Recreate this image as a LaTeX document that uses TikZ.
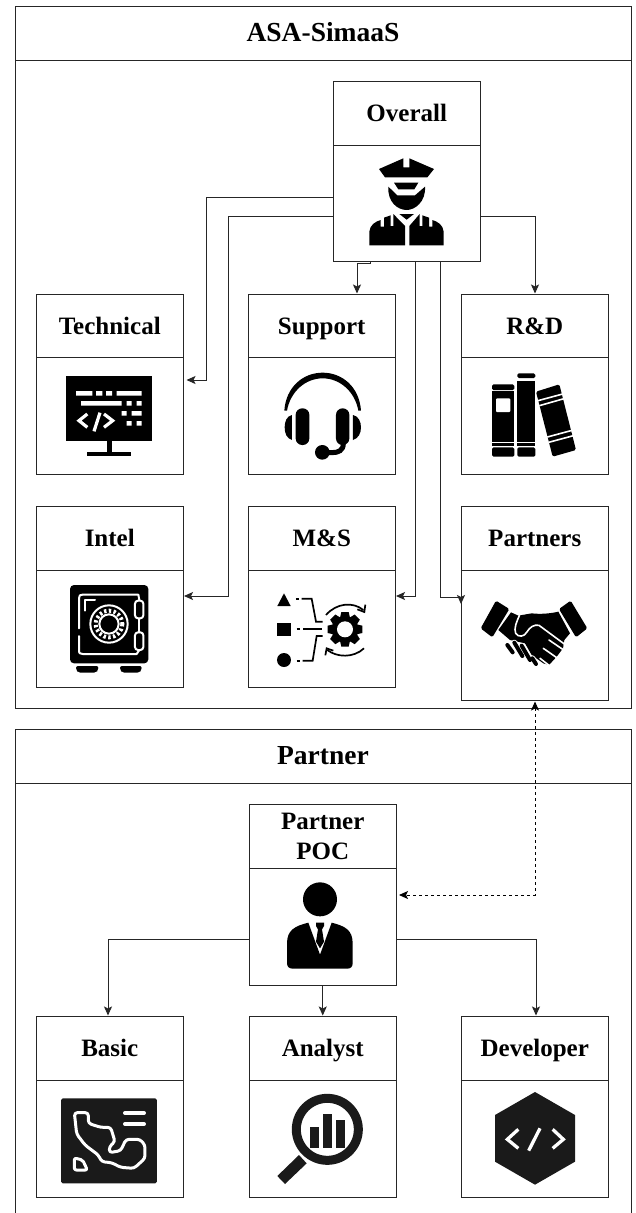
\documentclass[tikz,border=0pt]{standalone}
\usepackage{fontspec}
\setmainfont{Liberation Serif}
\usetikzlibrary{arrows.meta}
\definecolor{soft}{HTML}{1A1A1A}
\newcommand{\tstrut}{\rule[-6pt]{0pt}{29pt}}
\tikzset{
  x=1pt,y=-1pt,
  frameline/.style={draw=black!85,line width=1pt},
  head/.style={frameline,fill=white,inner sep=0pt,align=center,font=\bfseries\fontsize{25}{27}\selectfont},
  framehead/.style={head,font=\bfseries\fontsize{27.5}{30}\selectfont},
  bodybox/.style={frameline,fill=white,inner sep=0pt},
  tip/.style={-{Stealth[length=9pt,width=8pt,inset=2pt]}},
  link/.style={draw=black!85,line width=1pt,tip},
  dlink/.style={draw=black,line width=1pt,dash pattern=on 3pt off 3pt,{Stealth[length=9pt,width=8pt,inset=2pt]}-{Stealth[length=9pt,width=8pt,inset=2pt]}},
  zm/.style 2 args={shift={(#1,#2)},x=0.33333pt,y=-0.33333pt},
  wl/.style={draw=white,line width=#1,line cap=round,line join=round},
  bl/.style={draw=black,line width=#1,line cap=round,line join=round},
}
% name, x1, y1, y2, y3, title
\newcommand{\cardbox}[6]{%
  \node[head,minimum width=147.5pt,minimum height={#4pt-#3pt}] (#1h) at ({#2+73.75},{(#3+#4)/2}) {\tstrut #6\tstrut};
  \node[bodybox,minimum width=147.5pt,minimum height={#5pt-#4pt}] (#1) at ({#2+73.75},{(#4+#5)/2}) {};
}
\begin{document}
\begin{tikzpicture}
\useasboundingbox (0,0) rectangle (635,1213);
\fill[white] (0,0) rectangle (635,1213);
% frames
\node[framehead,minimum width=616pt,minimum height=54pt] (asah) at (323,33) {\tstrut ASA-SimaaS\tstrut};
\node[bodybox,minimum width=616pt,minimum height=648pt] (asa) at (323,384) {};
\node[framehead,minimum width=616pt,minimum height=54pt] (parth) at (323,756) {\tstrut Partner\tstrut};
\node[bodybox,minimum width=616pt,minimum height=440pt] (part) at (323,1003) {};
% cards
\cardbox{overall}{333}{81}{145}{261}{Overall}
\cardbox{tech}{36}{294}{357}{474}{Technical}
\cardbox{supp}{248}{294}{357}{474}{Support}
\cardbox{rd}{461}{294}{357}{474}{R\&D}
\cardbox{intel}{36}{506}{570}{687}{Intel}
\cardbox{ms}{248}{506}{570}{687}{M\&S}
\cardbox{pa}{461}{506}{570}{700}{Partners}
\cardbox{poc}{249}{804}{868}{985}{Partner\\POC}
\cardbox{basic}{36}{1016}{1080}{1197}{Basic}
\cardbox{anal}{249}{1016}{1080}{1197}{Analyst}
\cardbox{dev}{461}{1016}{1080}{1197}{Developer}
% connector bends
\coordinate (b1) at (206,197);
\coordinate (b2) at (206,380);
\coordinate (b3) at (228,216);
\coordinate (b4) at (228,596);
\coordinate (b5) at (370,263);
\coordinate (b6) at (357,263);
\coordinate (b7) at (415.5,596);
\coordinate (b8) at (440,597);
\coordinate (b9) at (461,597);
\coordinate (b10) at (535,216);
\coordinate (b11) at (535,895);
\coordinate (b12) at (108,939);
\coordinate (b13) at (536,939);
% connectors
\draw[link] ([yshift=6pt]overall.west) -- (b1) -- (b2) -- ([xshift=2.5pt]tech.east |- b2);
\draw[link] ([yshift=-13pt]overall.west) -- (b3) -- (b4) -- (intel.east |- b4);
\draw[link] (b5 |- overall.south) -- (b5) -- (b6) -- (b6 |- supph.north);
\draw[link] (b7 |- overall.south) -- (b7) -- (ms.east |- b7);
\draw[link] (b8 |- overall.south) -- (b8) -- (b9) -- ([yshift=-7pt]b9);
\draw[link] ([yshift=-13pt]overall.east) -- (b10) -- (b10 |- rdh.north);
\draw[dlink] ([yshift=-1pt]pa.south -| b11) -- (b11) -- ([xshift=2pt]poc.east |- b11);
\draw[link] (poc.west |- b12) -- (b12) -- (b12 |- basich.north);
\draw[link] (poc.south -| analh.north) -- (analh.north);
\draw[link] (poc.east |- b13) -- (b13) -- (b13 |- devh.north);

% ---- Police icon
\begin{scope}[zm={320}{70}]
\fill (177,297) -- (250,265) -- (250,292) -- (268,292) -- (268,265) -- (342,297) -- (322,322) -- (195,322) -- cycle;
\fill (222,338) -- (295,338) -- (283,358) -- (235,358) -- cycle;
\fill (205,350) -- (232,376) -- (285,376) -- (315,350) .. controls (318,395) and (285,420) .. (260,420) .. controls (232,420) and (202,395) .. (205,350) -- cycle;
\fill (238,432) -- (282,432) -- (260,449) -- cycle;
\fill (148,526) -- (148,485) .. controls (150,465) and (165,455) .. (182,450) -- (182,470) -- (192,470) -- (192,443) -- (212,436) -- (212,468) -- (220,468) -- (220,432) -- (255,468) -- (255,526) -- cycle;
\fill (371,526) -- (371,485) .. controls (369,465) and (354,455) .. (337,450) -- (337,470) -- (327,470) -- (327,443) -- (307,436) -- (307,468) -- (299,468) -- (299,432) -- (268,468) -- (268,526) -- cycle;
\end{scope}

% ---- Monitor icon
\begin{scope}[zm={30}{290}]
\fill (108,257) rectangle (365,453);
\fill (230,453) rectangle (245,485);
\fill (170,485) rectangle (304,498);
\fill[white] (138,303) rectangle (187,317) (198,303) rectangle (217,317) (228,303) rectangle (246,317) (260,303) rectangle (335,317);
\fill[white] (153,333) rectangle (275,347) (290,333) rectangle (305,347) (320,333) rectangle (335,347);
\fill[white] (275,363) rectangle (290,377) (305,363) rectangle (335,377);
\fill[white] (290,393) rectangle (305,407) (320,393) rectangle (335,407);
\draw[draw=white,line width=3.2pt] (172,372) -- (147,392) -- (172,412);
\draw[draw=white,line width=3.2pt] (210,368) -- (192,424);
\draw[draw=white,line width=3.2pt] (222,372) -- (248,392) -- (222,412);
\end{scope}

% ---- Headset icon
\begin{scope}[zm={30}{290}]
\fill (763,362) .. controls (768,290) and (820,248) .. (878,248) .. controls (936,248) and (988,290) .. (993,362) -- (985,362) .. controls (975,305) and (930,265) .. (878,265) .. controls (826,265) and (781,305) .. (771,362) -- cycle;
\fill[rounded corners=6.5pt] (797,355) rectangle (838,465);
\fill[rounded corners=6.5pt] (918,355) rectangle (958,465);
\fill (786,375) .. controls (770,378) and (764,395) .. (764,412) .. controls (764,430) and (770,445) .. (786,450) -- cycle;
\fill (969,375) .. controls (985,378) and (993,395) .. (993,412) .. controls (993,430) and (985,445) .. (969,450) -- cycle;
\draw[line width=5pt] (940,460) .. controls (940,482) and (925,488) .. (905,488) -- (880,488);
\fill (877,487) circle[radius=22];
\end{scope}

% ---- Books icon
\begin{scope}[zm={430}{290}]
\fill[rounded corners=1.5pt] (186,283) rectangle (253,300);
\fill (186,302) rectangle (253,455);
\fill (186,460) rectangle (253,468);
\fill[rounded corners=1.5pt] (186,472) rectangle (253,500);
\fill[white,rounded corners=1pt] (198,325) rectangle (241,366);
\fill[rounded corners=1.5pt] (262,250) rectangle (316,264);
\fill (262,272) rectangle (316,455);
\fill (262,460) rectangle (316,468);
\fill[rounded corners=1.5pt] (262,472) rectangle (316,500);
\fill[rounded corners=1.5pt] (318,305) -- (388,283) -- (438,480) -- (368,500) -- cycle;
\draw[white,line width=1.6pt] (324,332) -- (398,312);
\draw[white,line width=1.6pt] (328,347) -- (402,326);
\draw[white,line width=1.6pt] (352,441) -- (430,420);
\draw[white,line width=1.6pt] (356,457) -- (434,436);
\end{scope}

% ---- Safe icon
\begin{scope}[zm={30}{500}]
\fill[rounded corners=4pt] (120,255) rectangle (355,490);
\fill[rounded corners=2pt] (138,498) -- (205,498) -- (205,510) -- (198,518) -- (145,518) -- (138,510) -- cycle;
\fill[rounded corners=2pt] (270,498) -- (335,498) -- (335,510) -- (328,518) -- (277,518) -- (270,510) -- cycle;
\draw[wl=2pt] (147,385) -- (147,295) .. controls (147,286) and (150,284) .. (158,284) -- (325,284) -- (328,300);
\draw[wl=2pt] (147,408) -- (147,450) .. controls (147,460) and (150,462) .. (158,462) -- (320,462) -- (328,450);
\draw[wl=2pt] (165,332) -- (165,300) -- (195,300);
\draw[wl=2pt,rounded corners=3pt] (315,302) rectangle (340,355);
\draw[wl=2pt,rounded corners=3pt] (315,397) rectangle (340,450);
\draw[wl=2pt] (328,355) -- (328,397);
\draw[wl=2pt] (237,372) circle[radius=56];
\draw[white,line width=4pt,dash pattern=on 2.4pt off 2.4pt] (237,372) circle[radius=40];
\draw[wl=2pt] (237,372) circle[radius=29];
\end{scope}

% ---- M&S icon
\begin{scope}[zm={30}{500}]
\fill (742,318) -- (782,318) -- (762,280) -- cycle;
\fill (742,368) rectangle (782,408);
\fill (762,480) circle[radius=21];
\begin{scope}[line width=1.7pt]
\draw (798,296) -- (808,296);
\draw (815,296) -- (845,296) -- (858,365) -- (878,365);
\draw (800,388) -- (810,388);
\draw (820,388) -- (876,388);
\draw (800,482) -- (810,482);
\draw (818,482) -- (848,482) -- (860,408) -- (878,408);
\end{scope}
\fill (945,388) circle[radius=40];
\foreach \a in {0,45,...,315} {\fill[shift={(945,388)},rotate=\a] (-11,-52) -- (11,-52) -- (16,-30) -- (-16,-30) -- cycle;}
\fill[white] (945,388) circle[radius=24];
\draw[line width=1.7pt] (888,345) .. controls (920,308) and (970,305) .. (1000,330);
\draw[line width=1.7pt] (1006,314) -- (1003,336) -- (982,328);
\draw[line width=1.7pt] (1002,445) .. controls (970,475) and (920,472) .. (892,450);
\draw[line width=1.7pt] (886,466) -- (890,445) -- (910,452);
\end{scope}

% ---- Handshake icon
\begin{scope}[zm={475}{595}]
\fill[rounded corners=1.5pt] (63,17) -- (103,42) -- (52,127) -- (17,100) -- cycle;
\fill[rounded corners=1.5pt] (287,17) -- (252,42) -- (303,127) -- (337,100) -- cycle;
\fill (108,52) -- (130,62) -- (170,55) .. controls (195,58) and (225,56) .. (250,50) -- (285,115) -- (268,135) -- (264,160) -- (245,185) -- (222,210) -- (205,205) -- (170,180) -- (150,145) -- (105,135) -- (70,105) -- cycle;
\draw[wl=1.6pt] (133,62) .. controls (125,80) and (116,100) .. (122,115) .. controls (130,128) and (148,125) .. (155,112) .. controls (165,95) and (178,88) .. (192,91) -- (272,150);
\draw[wl=1.6pt] (266,165) -- (222,135);
\draw[wl=1.6pt] (248,190) -- (205,160);
\draw[wl=1.6pt] (226,214) -- (195,190);
\foreach \p/\q in {{(97,150)}/{(113,172)},{(118,143)}/{(142,183)},{(140,152)}/{(165,195)},{(172,190)}/{(183,207)}}
  \draw[wl=6pt] \p -- \q;
\foreach \p/\q in {{(97,150)}/{(113,172)},{(118,143)}/{(142,183)},{(140,152)}/{(165,195)},{(172,190)}/{(183,207)}}
  \draw[bl=4pt] \p -- \q;
\end{scope}

% ---- Person icon
\begin{scope}[zm={240}{800}]
\fill (240,298) circle[radius=51];
\fill (205,368) -- (240,464) -- (275,368) .. controls (315,378) and (338,390) .. (338,430) -- (338,490) .. controls (338,500) and (332,506) .. (322,506) -- (158,506) .. controls (148,506) and (141,500) .. (141,490) -- (141,430) .. controls (141,390) and (165,378) .. (205,368) -- cycle;
\fill (228,368) -- (252,368) -- (252,378) -- (246,388) -- (252,425) -- (240,445) -- (228,425) -- (234,388) -- (228,378) -- cycle;
\end{scope}

% ---- Map icon
\begin{scope}[zm={30}{1010}]
\fill[soft,rounded corners=1.7pt] (93,265) rectangle (381,520);
\draw[wl=4pt] (285,309) -- (342,309);
\draw[wl=4pt] (285,342) -- (342,342);
\draw[wl=3pt,rounded corners=3pt] (133,308) -- (175,308) -- (175,340) -- (212,352) -- (242,352) -- (255,395) -- (238,410) -- (238,428) -- (272,422) -- (288,388) -- (330,388) -- (345,405) -- (345,445) -- (312,475) -- (272,472) -- (245,458) -- (215,455) -- (205,435) -- (165,405) -- (140,372) -- cycle;
\draw[wl=3pt,rounded corners=2pt] (133,444) -- (158,450) -- (172,480) -- (133,480) -- cycle;
\end{scope}

% ---- Magnifier icon
\begin{scope}[zm={30}{1010}]
\draw[soft,line width=9pt] (892,358) circle[radius=93];
\fill[soft] (742,498) -- (765,522) -- (830,460) -- (807,435) -- cycle;
\fill[soft] (840,350) rectangle (868,415);
\fill[soft] (878,313) rectangle (905,415);
\fill[soft] (918,330) rectangle (945,415);
\end{scope}

% ---- Code hexagon icon
\begin{scope}[zm={450}{1010}]
\fill[soft] (255,246) -- (375,315) -- (375,455) -- (255,524) -- (135,455) -- (135,315) -- cycle;
\draw[white,line width=3.3pt] (205,358) -- (172,388) -- (205,415);
\draw[white,line width=3.3pt] (270,355) -- (236,422);
\draw[white,line width=3.3pt] (308,358) -- (340,388) -- (308,415);
\end{scope}
\end{tikzpicture}
\end{document}
